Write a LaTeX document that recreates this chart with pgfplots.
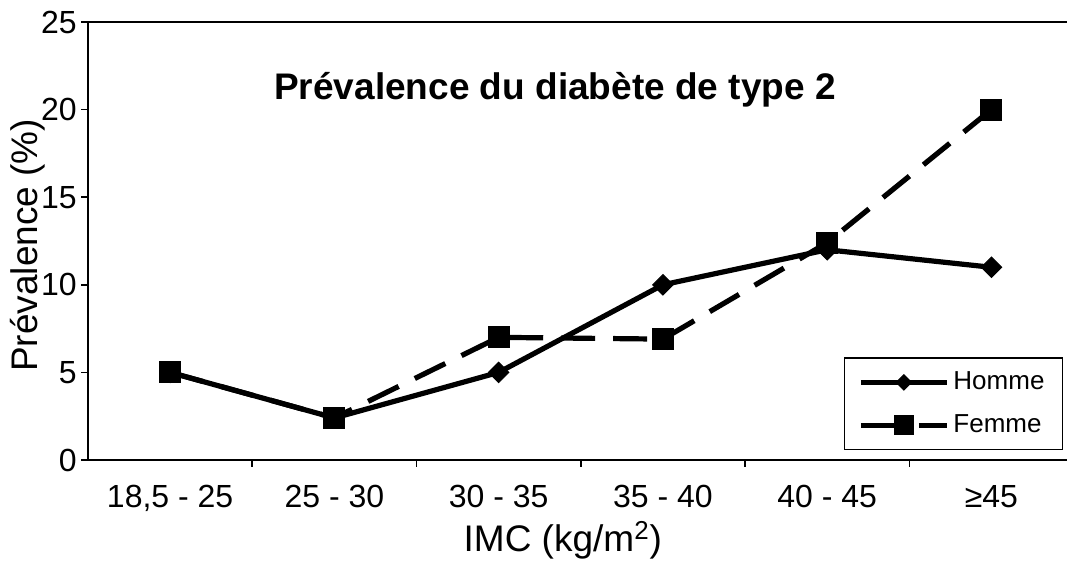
\documentclass[border=0pt]{standalone}
\usepackage{fontspec}
\setmainfont{Liberation Sans}
\usepackage{pgfplots}
\pgfplotsset{compat=1.18}
\newcommand{\legfont}{\fontsize{13}{15}\selectfont}
\pgfplotsset{
  homme legend/.style={legend image code/.code={
    \draw[##1] (0pt,0pt) -- (43pt,0pt);
    \draw[##1, mark size=2.7pt] plot coordinates {(21.5pt,0pt)};}},
  femme legend/.style={legend image code/.code={
    \draw[##1, solid] (0pt,0pt) -- (21pt,0pt) (29pt,0pt) -- (43pt,0pt);
    \draw[##1, mark size=4.7pt] plot coordinates {(21.5pt,0pt)};}},
}
\begin{document}
\begin{tikzpicture}
\begin{axis}[
  scale only axis,
  width=489.5pt, height=219pt,
  xmin=-0.5, xmax=5.46, ymin=0, ymax=25,
  axis x line=box, axis y line*=left,
  axis line style={line width=1pt, black},
  xtick pos=left,
  tick align=outside,
  xtick={0,1,2,3,4,5},
  xticklabels={{18,5 - 25},{25 - 30},{30 - 35},{35 - 40},{40 - 45},{≥45}},
  minor xtick={0.5,1.5,2.5,3.5,4.5},
  major x tick style={draw=none},
  minor tick length=3.5pt,
  major tick length=3.5pt,
  every tick/.style={line width=0.8pt, black},
  ytick={0,5,10,15,20,25},
  /pgf/number format/assume math mode=true,
  tick label style={font=\fontsize{16}{19}\selectfont},
  xticklabel style={anchor=base, yshift=-20.5pt},
  yticklabel style={inner sep=2pt},
  xlabel={IMC (kg/m\textsuperscript{2})},
  xlabel style={font=\fontsize{18.5}{22}\selectfont, at={(axis description cs:0.485,0)}, anchor=base, yshift=-46pt},
  ylabel={Prévalence (\%)},
  ylabel style={font=\fontsize{18.5}{22}\selectfont, at={(axis description cs:0,0.49)}, anchor=center, yshift=30pt},
  title={Prévalence du diabète de type 2},
  title style={font=\bfseries\fontsize{18.5}{22}\selectfont, at={(axis description cs:0.477,1)}, anchor=center, yshift=-40pt},
  legend style={at={(rel axis cs:0.996,0.022)}, anchor=south east, draw=black, line width=0.6pt,
    row sep=7pt, inner xsep=7pt, inner ysep=5pt},
  legend cell align=left,
]
\coordinate (O) at (rel axis cs:0,0);
\addplot[black, line width=2.6pt, mark=square*, mark size=3.6pt, mark options={rotate=45, solid, line width=0.5pt}, homme legend]
  coordinates {(0,5.0) (1,2.4) (2,5.0) (3,10.0) (4,12.0) (5,11.0)};
\addlegendentry{\legfont Homme}
\addplot[black, line width=2.6pt, dash pattern=on 17pt off 9pt, mark=square*, mark size=5.25pt, mark options={solid, line width=0.5pt}, femme legend]
  coordinates {(0,5.0) (1,2.4) (2,7.0) (3,6.9) (4,12.4) (5,20.0)};
\addlegendentry{\legfont Femme}
\end{axis}
\pgfresetboundingbox
\path (O) ++(-44pt,-53.5pt) rectangle ++(533.5pt,283.5pt);
\end{tikzpicture}
\end{document}
